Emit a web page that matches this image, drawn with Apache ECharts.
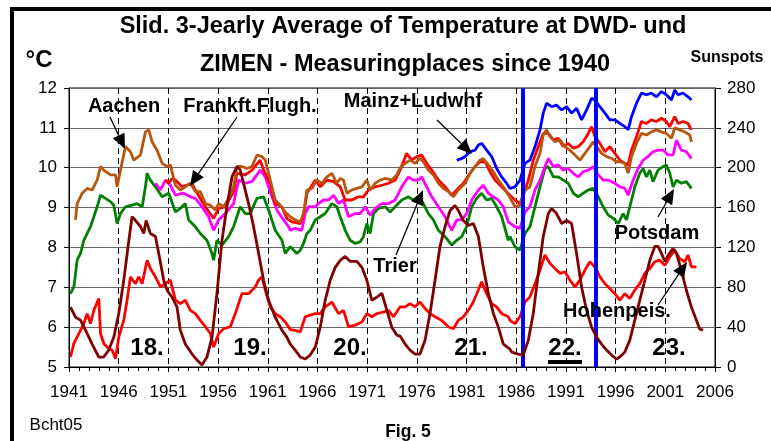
<!DOCTYPE html>
<html>
<head>
<meta charset="utf-8">
<script src="https://cdn.jsdelivr.net/npm/echarts@6/dist/echarts.min.js"></script>
<style>
html,body{margin:0;padding:0;background:#fff;}
#chart{width:771px;height:441px;}
</style>
</head>
<body>
<div id="chart"></div>
<script>
// ---- DATA (years, 3-year running means) ----
const xStartYear = 1941;
const xEndYear = 2006;
const cycleNumbers = ['18.', '19.', '20.', '21.', '22.', '23.'];
const cycleBoundaries = [1986.7, 1994.0];

const aachen = [[1941.65,8.69],[1941.82,9.10],[1942.33,9.36],[1942.83,9.48],[1943.33,9.44],[1943.83,9.69],[1944.17,10.03],[1944.5,9.94],[1945.17,9.82],[1945.68,9.82],[1945.84,9.52],[1946.18,9.94],[1946.68,10.53],[1947.18,10.40],[1947.52,10.19],[1948.19,10.32],[1948.69,10.90],[1949.03,10.95],[1949.36,10.65],[1949.86,10.44],[1950.37,10.11],[1950.87,10.03],[1951.2,10.07],[1951.71,9.56],[1952.21,9.44],[1952.7,9.52],[1953.21,9.61],[1953.71,9.40],[1954.21,9.40],[1954.72,9.10],[1955.22,9.06],[1955.72,8.94],[1956.06,9.10],[1956.56,9.02],[1957.06,9.23],[1957.56,9.52],[1957.9,10.03],[1958.4,10.03],[1958.9,9.98],[1959.41,10.03],[1959.91,10.32],[1960.41,10.28],[1960.75,10.19],[1961.25,9.69],[1961.75,9.19],[1962.25,9.06],[1962.76,8.89],[1963.26,8.77],[1963.76,8.69],[1964.27,8.64],[1964.6,8.85],[1964.94,9.44],[1965.44,9.48],[1965.94,9.69],[1966.45,9.61],[1966.95,9.77],[1967.45,9.86],[1967.95,9.61],[1968.29,9.73],[1968.62,9.69],[1968.96,9.36],[1969.46,9.44],[1969.96,9.48],[1970.47,9.52],[1970.97,9.69],[1971.3,9.44],[1971.81,9.61],[1972.31,9.69],[1972.81,9.73],[1973.48,9.69],[1973.98,9.82],[1974.31,10.0],[1974.82,10.11],[1975.32,10.19],[1975.82,10.11],[1976.32,10.23],[1976.66,10.15],[1977.16,9.94],[1977.66,9.82],[1978.17,9.61],[1978.67,9.48],[1979.17,9.40],[1979.67,9.27],[1980.18,9.44],[1980.85,9.61],[1981.35,9.86],[1981.85,10.03],[1982.35,10.19],[1982.69,10.23],[1983.19,10.07],[1983.69,9.90],[1984.2,9.69],[1984.7,9.52],[1985.37,9.25],[1985.87,9.02],[1986.38,9.06],[1986.88,9.44],[1987.38,9.52],[1987.89,10.03],[1988.39,10.36],[1988.72,10.82],[1989.06,10.95],[1989.39,10.78],[1989.9,10.65],[1990.4,10.70],[1990.9,10.53],[1991.4,10.44],[1991.91,10.32],[1992.41,10.19],[1992.91,10.36],[1993.41,10.53],[1993.75,10.65],[1994.08,10.53],[1994.59,10.36],[1995.09,10.28],[1995.59,10.23],[1996.09,10.15],[1996.42,10.15],[1996.93,10.11],[1997.26,9.86],[1997.6,10.28],[1998.1,10.61],[1998.6,10.86],[1999.1,10.82],[1999.6,10.90],[2000.11,10.95],[2000.61,10.90],[2001.11,10.86],[2001.62,10.74],[2001.95,11.0],[2002.45,10.95],[2002.96,10.90],[2003.46,10.82],[2003.63,10.65]];

const frankfurt = [[1950.7,9.69],[1951.04,9.61],[1951.37,9.73],[1951.7,9.69],[1952.37,9.52],[1953.38,9.61],[1953.71,9.44],[1954.72,9.02],[1955.55,8.73],[1956.06,8.98],[1956.73,9.02],[1957.56,9.40],[1957.9,9.86],[1958.74,9.82],[1959.41,9.94],[1960.24,10.19],[1960.58,9.94],[1961.25,9.61],[1961.75,9.10],[1962.42,9.02],[1962.92,8.73],[1963.43,8.64],[1964.27,8.60],[1964.6,8.81],[1964.94,9.36],[1965.78,9.69],[1966.28,9.52],[1966.95,9.69],[1967.62,9.65],[1968.29,9.52],[1968.79,9.19],[1969.46,9.19],[1970.13,9.27],[1970.63,9.27],[1971.13,9.44],[1971.81,9.52],[1972.48,9.56],[1973.15,9.61],[1973.82,9.69],[1974.32,9.94],[1974.98,10.36],[1975.48,10.19],[1975.99,10.28],[1976.49,10.32],[1976.99,10.11],[1977.5,9.94],[1978.17,9.69],[1978.84,9.52],[1979.51,9.31],[1980.01,9.44],[1980.68,9.61],[1981.35,9.86],[1981.85,10.03],[1982.35,10.15],[1982.86,10.15],[1983.36,9.90],[1983.86,9.69],[1984.53,9.52],[1985.37,9.31],[1985.87,9.19],[1986.38,9.10],[1986.88,9.44],[1987.22,9.69],[1987.72,10.19],[1988.22,10.53],[1988.72,10.86],[1989.23,10.86],[1989.73,10.70],[1990.23,10.74],[1990.73,10.53],[1991.24,10.61],[1991.74,10.49],[1992.24,10.53],[1992.74,10.65],[1993.25,10.86],[1993.58,11.03],[1993.92,10.78],[1994.42,10.61],[1994.92,10.40],[1995.42,10.53],[1995.93,10.36],[1996.42,10.19],[1996.93,10.11],[1997.26,10.07],[1997.6,10.44],[1998.1,10.78],[1998.6,11.16],[1999.1,11.11],[1999.6,11.20],[2000.11,11.16],[2000.61,11.24],[2001.11,11.16],[2001.45,11.03],[2001.95,11.28],[2002.29,11.11],[2002.79,11.16],[2003.29,11.11],[2003.63,10.95]];

const trier = [[1949.7,9.61],[1950.2,9.44],[1950.7,9.69],[1951.2,9.56],[1951.71,9.31],[1952.54,9.36],[1953.21,9.27],[1953.71,9.23],[1954.38,9.02],[1955.05,8.77],[1955.55,8.43],[1956.06,8.69],[1956.73,8.85],[1957.56,9.10],[1958.07,9.69],[1958.74,9.61],[1959.41,9.65],[1960.24,9.94],[1960.75,9.77],[1961.42,9.27],[1961.92,8.94],[1962.59,8.69],[1963.09,8.52],[1963.26,8.43],[1963.76,8.48],[1964.43,8.43],[1964.77,8.85],[1965.1,9.02],[1965.78,9.02],[1966.11,9.10],[1966.61,9.19],[1967.12,9.19],[1967.62,9.31],[1968.12,9.10],[1968.62,9.19],[1969.13,8.77],[1969.8,8.85],[1970.3,8.85],[1970.8,9.02],[1971.3,8.81],[1971.81,8.98],[1972.48,9.10],[1973.15,9.10],[1973.82,9.19],[1974.48,9.52],[1975.15,9.77],[1975.65,9.69],[1976.16,9.69],[1976.49,9.77],[1976.99,9.52],[1977.5,9.27],[1978.17,9.02],[1978.84,8.77],[1979.51,8.43],[1980.01,8.69],[1980.51,8.69],[1981.01,8.85],[1981.52,9.19],[1982.19,9.44],[1982.69,9.56],[1983.19,9.36],[1983.69,9.27],[1984.2,9.19],[1984.7,9.02],[1985.2,8.64],[1985.87,8.52],[1986.38,8.48],[1986.88,8.89],[1987.38,9.02],[1987.89,9.44],[1988.39,9.69],[1988.89,10.03],[1989.23,10.23],[1989.73,10.03],[1990.23,10.07],[1990.73,9.94],[1991.24,9.98],[1991.74,9.86],[1992.24,9.77],[1992.74,9.90],[1993.25,9.94],[1993.75,10.03],[1994.25,9.82],[1994.75,9.69],[1995.26,9.69],[1995.93,9.61],[1996.43,9.52],[1996.93,9.48],[1997.26,9.31],[1997.76,9.69],[1998.27,9.98],[1998.77,10.19],[1999.27,10.28],[1999.77,10.40],[2000.27,10.44],[2000.78,10.44],[2001.28,10.32],[2001.78,10.32],[2002.12,10.69],[2002.62,10.44],[2003.12,10.40],[2003.63,10.23]];

const potsdam = [[1941.15,6.84],[1941.49,7.01],[1941.82,7.68],[1942.16,7.85],[1942.49,8.18],[1942.83,8.35],[1943.16,8.52],[1943.5,8.77],[1943.83,9.02],[1944.17,9.31],[1944.67,9.23],[1945.17,9.15],[1945.51,9.06],[1945.84,8.60],[1946.18,8.85],[1946.68,9.02],[1947.35,9.06],[1947.85,9.10],[1948.36,9.02],[1948.69,9.52],[1948.86,9.86],[1949.19,9.69],[1949.7,9.52],[1950.37,9.27],[1951.04,9.36],[1951.71,8.89],[1952.2,8.98],[1952.7,9.10],[1953.04,8.69],[1953.71,8.52],[1954.21,8.35],[1954.88,8.18],[1955.39,7.85],[1955.55,7.68],[1955.89,8.18],[1956.39,8.06],[1957.06,8.27],[1957.56,8.52],[1958.23,9.02],[1958.74,8.85],[1959.24,8.85],[1959.91,9.23],[1960.58,9.27],[1961.08,8.94],[1961.75,8.43],[1962.42,8.18],[1962.76,7.85],[1963.26,8.02],[1963.93,7.85],[1964.27,7.93],[1964.6,8.10],[1964.94,8.35],[1965.27,8.43],[1965.78,8.69],[1966.28,8.77],[1966.78,8.85],[1967.45,9.10],[1967.95,9.02],[1968.29,8.77],[1968.79,8.43],[1969.29,8.18],[1969.8,8.10],[1970.3,8.14],[1970.63,8.27],[1970.97,8.60],[1971.3,8.35],[1971.64,8.85],[1972.14,8.98],[1972.81,9.02],[1973.31,8.89],[1973.82,9.02],[1974.48,9.19],[1975.15,9.27],[1975.65,9.19],[1976.16,9.27],[1976.66,9.10],[1977.16,8.85],[1977.66,8.69],[1978.17,8.43],[1978.84,8.27],[1979.51,8.06],[1980.01,8.18],[1980.51,8.27],[1981.01,8.52],[1981.52,9.02],[1982.02,9.23],[1982.52,9.36],[1983.02,9.19],[1983.53,9.23],[1984.03,9.02],[1984.53,8.77],[1985.2,8.18],[1985.37,8.27],[1985.87,8.02],[1986.38,7.93],[1986.88,8.35],[1987.38,8.52],[1987.89,9.02],[1988.39,9.52],[1988.89,9.98],[1989.23,10.03],[1989.73,9.77],[1990.23,9.77],[1990.73,9.69],[1991.24,9.61],[1991.74,9.36],[1992.24,9.27],[1992.74,9.36],[1993.25,9.44],[1993.75,9.48],[1994.25,9.27],[1994.75,9.02],[1995.26,8.81],[1995.76,8.73],[1996.26,8.60],[1996.76,8.85],[1997.09,8.69],[1997.43,9.02],[1997.93,9.52],[1998.43,9.86],[1998.77,9.98],[1999.1,9.77],[1999.44,9.94],[1999.77,9.65],[2000.27,9.94],[2000.78,10.03],[2001.11,10.07],[2001.45,9.86],[2001.78,9.52],[2002.12,9.69],[2002.62,9.61],[2003.12,9.65],[2003.63,9.48]];

const mainz = [[1980.01,10.19],[1980.51,10.23],[1980.85,10.28],[1981.35,10.40],[1981.85,10.44],[1982.19,10.57],[1982.52,10.61],[1983.02,10.44],[1983.53,10.28],[1984.03,9.98],[1984.53,9.77],[1985.03,9.61],[1985.37,9.48],[1985.87,9.52],[1986.38,9.69],[1986.88,10.11],[1987.38,10.19],[1987.89,10.53],[1988.39,10.95],[1988.72,11.37],[1989.06,11.62],[1989.56,11.53],[1990.06,11.57],[1990.57,11.45],[1991.07,11.53],[1991.57,11.37],[1992.07,11.49],[1992.58,11.20],[1993.08,11.45],[1993.58,11.74],[1993.92,11.70],[1994.42,11.53],[1994.92,11.37],[1995.42,11.20],[1995.93,11.20],[1996.43,11.11],[1996.93,11.03],[1997.26,10.95],[1997.6,11.28],[1998.1,11.62],[1998.6,11.87],[1999.1,11.83],[1999.6,11.87],[2000.11,11.78],[2000.61,11.91],[2001.11,11.83],[2001.62,11.70],[2001.95,11.95],[2002.29,11.83],[2002.79,11.87],[2003.29,11.78],[2003.63,11.70]];

const hohenpeissenberg = [[1941.15,5.25],[1941.49,5.59],[1941.99,5.84],[1942.49,6.09],[1942.83,6.34],[1943.16,6.09],[1943.5,6.42],[1944.0,6.72],[1944.17,5.84],[1944.5,5.59],[1944.84,5.50],[1945.34,5.42],[1945.68,5.21],[1946.01,5.75],[1946.51,6.17],[1946.85,6.68],[1947.18,7.26],[1947.69,7.09],[1948.02,7.26],[1948.36,7.09],[1948.86,7.68],[1949.19,7.47],[1949.7,7.26],[1950.2,7.01],[1950.7,7.09],[1951.2,7.18],[1951.71,6.68],[1952.2,6.59],[1952.7,6.68],[1953.21,6.42],[1953.71,6.34],[1954.21,6.17],[1954.72,6.01],[1955.22,5.84],[1955.55,5.50],[1956.06,5.84],[1956.56,5.96],[1957.23,6.01],[1957.73,6.34],[1958.4,6.84],[1959.07,6.84],[1959.74,7.01],[1960.08,7.18],[1960.41,7.26],[1960.75,6.93],[1961.25,6.51],[1961.75,6.34],[1962.25,6.26],[1962.76,6.13],[1963.26,5.94],[1963.76,5.92],[1964.27,5.88],[1964.77,6.26],[1965.27,6.30],[1965.78,6.34],[1966.28,6.34],[1966.78,6.51],[1967.45,6.63],[1968.12,6.34],[1968.62,6.42],[1969.13,6.01],[1969.8,6.05],[1970.47,6.13],[1970.97,6.34],[1971.47,6.26],[1971.97,6.34],[1972.64,6.38],[1973.15,6.42],[1973.65,6.26],[1974.32,6.51],[1974.82,6.51],[1975.32,6.59],[1975.82,6.51],[1976.32,6.63],[1976.83,6.47],[1977.33,6.34],[1977.83,6.26],[1978.5,6.17],[1979.17,6.01],[1979.67,5.96],[1980.18,6.17],[1980.68,6.26],[1981.18,6.42],[1981.68,6.63],[1982.19,6.93],[1982.52,7.14],[1983.02,6.84],[1983.53,6.59],[1984.03,6.51],[1984.53,6.34],[1985.2,6.26],[1985.37,6.17],[1985.87,6.09],[1986.38,6.26],[1986.88,6.63],[1987.38,6.76],[1987.89,7.09],[1988.39,7.43],[1988.89,7.81],[1989.39,7.60],[1989.9,7.47],[1990.4,7.35],[1990.9,7.39],[1991.4,7.18],[1991.91,7.01],[1992.41,7.18],[1992.91,7.43],[1993.41,7.64],[1993.92,7.51],[1994.42,7.26],[1994.92,7.09],[1995.42,6.97],[1995.93,6.84],[1996.42,6.68],[1996.93,6.84],[1997.43,6.72],[1997.93,6.93],[1998.43,7.09],[1998.94,7.35],[1999.44,7.47],[1999.94,7.64],[2000.44,7.68],[2000.95,7.55],[2001.45,7.76],[2001.95,7.93],[2002.45,7.72],[2002.96,7.64],[2003.29,7.81],[2003.63,7.51],[2004.13,7.51]];

const sunspots = [[1941.15,60],[1941.65,50],[1942.16,47],[1942.66,37],[1943.33,23],[1944.0,10],[1944.5,10],[1945.0,17],[1945.51,30],[1946.01,54],[1946.51,87],[1947.02,127],[1947.35,151],[1947.69,147],[1948.19,141],[1948.52,134],[1948.76,147],[1949.19,134],[1949.7,131],[1950.03,114],[1950.53,87],[1950.87,77],[1951.37,70],[1951.87,60],[1952.2,37],[1952.7,23],[1953.38,13],[1953.88,7],[1954.38,2],[1954.88,10],[1955.39,30],[1955.89,74],[1956.39,127],[1956.89,161],[1957.4,191],[1957.9,201],[1958.23,198],[1958.57,184],[1959.07,164],[1959.57,141],[1960.08,114],[1960.58,87],[1961.08,67],[1961.75,50],[1962.42,37],[1962.92,30],[1963.26,23],[1963.76,17],[1964.27,10],[1964.77,8],[1965.27,12],[1965.78,20],[1966.28,40],[1966.78,67],[1967.28,87],[1967.79,100],[1968.29,107],[1968.79,111],[1969.29,106],[1969.96,106],[1970.47,100],[1970.97,87],[1971.47,67],[1971.97,70],[1972.48,74],[1972.98,57],[1973.48,40],[1973.98,32],[1974.31,31],[1974.82,23],[1975.32,17],[1975.82,13],[1976.32,13],[1976.83,27],[1977.33,54],[1977.83,87],[1978.33,121],[1978.84,141],[1979.34,157],[1979.84,162],[1980.18,157],[1980.68,147],[1981.18,142],[1981.68,144],[1982.19,131],[1982.69,100],[1983.19,74],[1983.69,54],[1984.2,40],[1984.7,23],[1985.37,18],[1985.54,15],[1986.21,13],[1986.71,12],[1987.22,27],[1987.72,54],[1988.22,94],[1988.72,131],[1989.23,154],[1989.56,159],[1990.06,154],[1990.57,144],[1991.07,147],[1991.57,144],[1992.07,114],[1992.58,80],[1993.08,57],[1993.58,40],[1994.08,30],[1994.59,23],[1995.09,17],[1995.59,12],[1996.09,8],[1996.42,10],[1996.93,15],[1997.43,27],[1997.93,47],[1998.43,67],[1998.94,87],[1999.44,107],[1999.94,121],[2000.27,121],[2000.61,114],[2000.95,106],[2001.28,112],[2001.78,119],[2002.12,114],[2002.62,97],[2003.12,77],[2003.63,60],[2004.13,47],[2004.46,38],[2004.8,37]];

// ---- CHART ----
const FONT = '"Liberation Sans", Arial, sans-serif';
const toX = arr => arr.map(p => [+(p[0] - xStartYear).toFixed(3), p[1]]);

function arrow(x1, y1, x2, y2) {
  const L = 15, W = 6.5;
  const dx = x2 - x1, dy = y2 - y1, len = Math.hypot(dx, dy);
  const ux = dx / len, uy = dy / len;
  const bx = x2 - ux * L, by = y2 - uy * L;
  const px = -uy * W, py = ux * W;
  return [
    {type: 'line', shape: {x1: x1, y1: y1, x2: bx, y2: by}, style: {stroke: '#000', lineWidth: 1.3}, z: 50},
    {type: 'polygon', shape: {points: [[x2, y2], [bx + px, by + py], [bx - px, by - py]]}, style: {fill: '#000'}, z: 50}
  ];
}

function label(text, x, y, size, bold, align) {
  return {
    type: 'text', x: x, y: y, z: 60,
    style: {
      text: text, font: (bold ? 'bold ' : '') + size + 'px ' + FONT, fill: '#000',
      textAlign: align || 'center', textVerticalAlign: 'middle', align: align || 'center', verticalAlign: 'middle'
    }
  };
}

const cycleLabelX = [147, 250, 350, 471, 565, 669];

const lineSeries = (name, data, color, yIdx, z) => ({
  name: name, type: 'line', data: toX(data), yAxisIndex: yIdx || 0,
  showSymbol: false, symbol: 'none', smooth: false, animation: false, z: z || 2,
  lineStyle: {color: color, width: 2.8}, itemStyle: {color: color}
});

const chart = echarts.init(document.getElementById('chart'), null, {renderer: 'canvas'});

const graphics = [
  {type: 'polyline', shape: {points: [[12, 441], [12, 9], [771, 9]]}, style: {stroke: '#000', lineWidth: 4, fill: null}, z: 10},
  label('Slid. 3-Jearly Average of Temperature at DWD- und', 403, 27, 23.5, true),
  label('ZIMEN - Measuringplaces since 1940', 405, 65, 23.5, true),
  label('°C', 39, 60, 24, true),
  label('Sunspots', 727, 58, 16, true),
  label('Bcht05', 56, 425, 17, false),
  label('Fig. 5', 408, 432, 17.5, true),
  label('Aachen', 124, 106, 20, true),
  label('Frankft.Flugh.', 250, 106, 20, true),
  label('Mainz+Ludwhf', 413, 101, 20, true),
  label('Trier', 395, 266, 20, true),
  label('Potsdam', 657, 233, 20, true),
  label('Hohenpeis.', 617, 311, 20, true),
  {type: 'rect', shape: {x: 548, y: 360, width: 34, height: 4}, style: {fill: '#000'}, z: 60}
];
cycleNumbers.forEach((t, i) => graphics.push(label(t, cycleLabelX[i], 348, 24, true)));
[[110, 117, 125, 149], [237, 117, 190, 186], [437, 120, 472, 154], [396, 255, 423, 190], [658, 217, 674, 189], [658, 305, 687, 262]]
  .forEach(a => arrow.apply(null, a).forEach(g => graphics.push(g)));

const series = [
  lineSeries('Hohenpeis.', hohenpeissenberg, '#FF0000', 0, 2),
  lineSeries('Potsdam', potsdam, '#008000', 0, 3),
  lineSeries('Trier', trier, '#FF00FF', 0, 3),
  lineSeries('Frankft.Flugh.', frankfurt, '#FF0000', 0, 3),
  lineSeries('Aachen', aachen, '#B8560F', 0, 4),
  lineSeries('Mainz+Ludwhf', mainz, '#0000FF', 0, 4),
  lineSeries('Sunspots', sunspots, '#800000', 1, 5)
];
series[5].markLine = {
  silent: true, symbol: ['none', 'none'], animation: false,
  label: {show: false},
  lineStyle: {color: '#0000FF', width: 4, type: 'solid'},
  data: cycleBoundaries.map(y => ({xAxis: y - xStartYear}))
};

chart.setOption({
  animation: false,
  backgroundColor: '#fff',
  grid: {left: 69, right: 56, top: 88, bottom: 74, show: true, borderColor: '#000', borderWidth: 1},
  xAxis: {
    type: 'value', min: 0, max: xEndYear - xStartYear, interval: 5,
    axisLine: {show: true, lineStyle: {color: '#000', width: 1}},
    axisTick: {show: true, length: 5, inside: false, lineStyle: {color: '#000'}},
    minorTick: {show: true, splitNumber: 5, length: 4, lineStyle: {color: '#000'}},
    axisLabel: {color: '#000', fontSize: 17, fontFamily: FONT, margin: 17, formatter: v => String(v + xStartYear)},
    splitLine: {show: true, lineStyle: {color: '#000', type: [6, 4], width: 1}}
  },
  yAxis: [
    {
      type: 'value', min: 5, max: 12, interval: 1, position: 'left',
      axisLine: {show: true, lineStyle: {color: '#000', width: 1}},
      axisTick: {show: true, length: 5, lineStyle: {color: '#000'}},
      axisLabel: {color: '#000', fontSize: 17, fontFamily: FONT, margin: 12},
      splitLine: {show: true, lineStyle: {color: '#666', width: 1}}
    },
    {
      type: 'value', min: 0, max: 280, interval: 40, position: 'right',
      axisLine: {show: true, lineStyle: {color: '#000', width: 1}},
      axisTick: {show: true, length: 6, lineStyle: {color: '#000'}},
      axisLabel: {color: '#000', fontSize: 17, fontFamily: FONT, margin: 12},
      splitLine: {show: false}
    }
  ],
  series: series,
  graphic: graphics
});
</script>
</body>
</html>
